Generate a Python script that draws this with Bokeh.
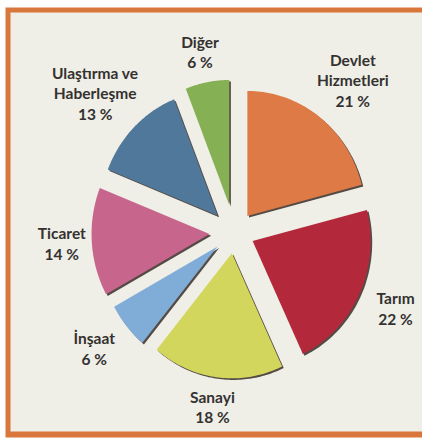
import numpy as np
from bokeh.plotting import figure
from bokeh.models import ColumnDataSource
from bokeh.core.properties import value
from bokeh.embed import file_html
from bokeh.resources import INLINE

# ---- data ----
sectors = ["Devlet Hizmetleri", "Tarım", "Sanayi", "İnşaat", "Ticaret",
           "Ulaştırma ve Haberleşme", "Diğer"]
label_lines = [["Devlet", "Hizmetleri"], ["Tarım"], ["Sanayi"], ["İnşaat"],
               ["Ticaret"], ["Ulaştırma ve", "Haberleşme"], ["Diğer"]]
shares = [21, 22, 18, 6, 14, 13, 6]

# ---- styles / layout ----
colors = ["#de7a46", "#b3293b", "#d3d65c", "#80acd8", "#c8658d", "#50789a", "#86b054"]
explode = [21, 20, 21, 22, 25, 24, 28]          # px
label_dist = [193, 178, 176, 182, 173, 197, 184]  # px from centre
W, H = 422, 441
cx, cy = 234, 209       # pie centre in plot px (y up)
rx, ry = 118, 125

p = figure(width=W, height=H, x_range=(0, W), y_range=(0, H),
           output_backend="svg", toolbar_location=None,
           x_axis_type=None, y_axis_type=None, min_border=0,
           background_fill_color="white", border_fill_color="white")
p.outline_line_color = None
p.grid.visible = False

# frame
p.quad(left=[5], right=[W], bottom=[4], top=[434], fill_color="#d9763b", line_color=None)
p.quad(left=[10], right=[W], bottom=[10], top=[429], fill_color="#efeee7", line_color=None)

total = float(sum(shares))
start = np.pi / 2
xs_s, ys_s, xs, ys, cols = [], [], [], [], []
lx, ly, lt = [], [], []
for i, v in enumerate(shares):
    sweep = 2 * np.pi * v / total
    a0, a1 = start, start - sweep
    mid = (a0 + a1) / 2
    ax = cx + explode[i] * np.cos(mid)
    ay = cy + explode[i] * np.sin(mid)
    t = np.linspace(a0, a1, 60)
    px = np.concatenate([[ax], ax + rx * np.cos(t)])
    py = np.concatenate([[ay], ay + ry * np.sin(t)])
    xs.append(list(px)); ys.append(list(py)); cols.append(colors[i])
    xs_s.append(list(px + 1.6)); ys_s.append(list(py - 1.6))
    # labels
    bx = cx + label_dist[i] * np.cos(mid)
    by = cy + label_dist[i] * np.sin(mid)
    lines = label_lines[i] + ["%d %%" % v]
    n = len(lines)
    for k, s in enumerate(lines):
        lx.append(bx)
        ly.append(by + ((n - 1) / 2 - k) * 20.5)
        lt.append(s)
    start = a1

p.patches(xs_s, ys_s, fill_color="#3a2e28", fill_alpha=0.85, line_color=None)
p.patches(xs, ys, fill_color=cols, line_color=None)

src = ColumnDataSource(dict(x=lx, y=ly, text=lt))
p.text(x="x", y="y", text="text", source=src, text_align="center",
       text_baseline="middle", text_font=value("Lato"), text_font_style="bold",
       text_font_size="15.5px", text_color="#343230")

open("out.html", "w").write(file_html(p, INLINE))
